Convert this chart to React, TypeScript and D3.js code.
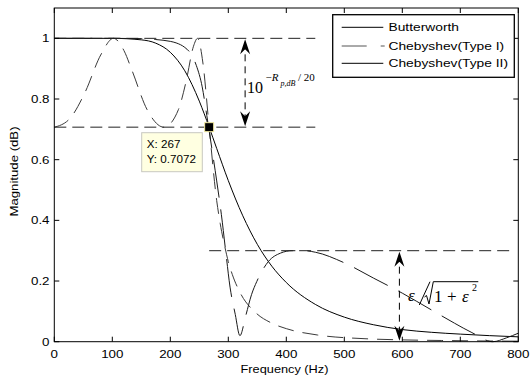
import * as d3 from "d3";

// frequency response
const butterFreq = [0, 50, 100, 150, 175, 200, 225, 250, 267, 280, 300, 325, 350, 375, 400, 450, 500, 550, 600, 650, 700, 750, 800];
const butterMag = [1, 1, 1, 0.995, 0.984, 0.954, 0.893, 0.793, 0.707, 0.637, 0.531, 0.415, 0.321, 0.249, 0.195, 0.123, 0.081, 0.056, 0.04, 0.031, 0.025, 0.02, 0.016];

const cheb1Freq = [0, 27, 53, 80, 102, 120, 134, 160, 189, 214, 227, 240, 247, 256, 267, 280, 286, 294, 300, 307, 320, 347, 374, 400, 454, 534, 600, 668, 734, 800];
const cheb1Mag = [0.707, 0.736, 0.822, 0.945, 1, 0.96, 0.894, 0.765, 0.707, 0.765, 0.856, 0.974, 1, 0.922, 0.707, 0.465, 0.39, 0.313, 0.264, 0.221, 0.163, 0.096, 0.062, 0.043, 0.022, 0.01, 0.006, 0.004, 0.0025, 0.0017];

const cheb2Freq = [0, 100, 150, 175, 200, 210, 225, 234, 245, 255, 263, 271, 280, 288, 296, 303, 312, 320, 330, 340, 349, 369, 390, 410, 430, 450, 500, 550, 600, 650, 690, 720, 756, 780, 800];
const cheb2Mag = [1, 1, 0.999, 0.996, 0.99, 0.985, 0.97, 0.953, 0.91, 0.84, 0.745, 0.645, 0.53, 0.42, 0.29, 0.18, 0.09, 0.02, 0.085, 0.155, 0.198, 0.264, 0.292, 0.3, 0.3, 0.295, 0.26, 0.21, 0.16, 0.105, 0.061, 0.03, 0, 0.013, 0.028];

const xTicks = [0, 100, 200, 300, 400, 500, 600, 700, 800];
const yTicks = [0, 0.2, 0.4, 0.6, 0.8, 1];
const yTickLabels = ["0", "0.2", "0.4", "0.6", "0.8", "1"];

const legendNames = ["Butterworth", "Chebyshev(Type I)", "Chebyshev(Type II)"];

const tipX = 267;
const tipY = 0.7072;
const rippleLevel = 0.3;

const W = 530;
const H = 381;
const FONT = "Arial, 'Liberation Sans', Helvetica, sans-serif";
const SERIF = "'Times New Roman', 'Liberation Serif', serif";

const x = d3.scaleLinear().domain([0, 800]).range([54.3, 518.3]);
const y = d3.scaleLinear().domain([0, 1.1]).range([341.7, 8]);

const line = d3
  .line<[number, number]>()
  .x((d) => x(d[0]))
  .y((d) => y(d[1]))
  .curve(d3.curveMonotoneX);

const zip = (f: number[], m: number[]) => f.map((v, i) => [v, m[i]] as [number, number]);

// stretched sans text, the reference font is wider than Arial
function Txt({ x: tx, y: ty, anchor = "start", size = 11.5, sx = 1.16, rotate = 0, children }: any) {
  return (
    <text
      transform={`translate(${tx},${ty}) rotate(${rotate}) scale(${sx},1)`}
      textAnchor={anchor}
      fontFamily={FONT}
      fontSize={size}
      fill="#000"
    >
      {children}
    </text>
  );
}

function Arrow({ px, py, dir }: { px: number; py: number; dir: 1 | -1 }) {
  // dir 1 = points up, tip at (px,py)
  const s = dir;
  const d = `M${px},${py} L${px + 5},${py + 15 * s} L${px},${py + 10 * s} L${px - 5},${py + 15 * s} Z`;
  return <path d={d} fill="#000" />;
}

export default function App() {
  const x0 = x(0);
  const x1 = x(800);
  const yTop = y(1.1);
  const yBot = y(0);

  const arrow1X = x(329);
  const arrow2X = x(595);

  const legendX0 = 332.7;
  const legendY0 = 14.7;
  const legendRows = [27.3, 46, 63.3];

  return (
    <svg
      width={W}
      height={H}
      style={{ position: "absolute", left: 0, top: 0, background: "#fff" }}
    >
      <rect x={0} y={0} width={W} height={H} fill="#fff" />

      {/* curves */}
      <path d={line(zip(butterFreq, butterMag)) || ""} fill="none" stroke="#000" strokeWidth={1} />
      <path
        d={line(zip(cheb1Freq, cheb1Mag)) || ""}
        fill="none"
        stroke="#3a3a3a"
        strokeWidth={1}
        strokeDasharray="16,9"
      />
      <path
        d={line(zip(cheb2Freq, cheb2Mag)) || ""}
        fill="none"
        stroke="#1a1a1a"
        strokeWidth={1}
        strokeDasharray="38,12"
      />

      {/* reference lines */}
      <g stroke="#222" strokeWidth={1} strokeDasharray="12,6" fill="none">
        <line x1={x(0)} x2={x(450)} y1={y(1)} y2={y(1)} />
        <line x1={x(0)} x2={x(450)} y1={y(tipY)} y2={y(tipY)} />
        <line x1={x(267)} x2={x(785)} y1={y(rippleLevel)} y2={y(rippleLevel)} />
      </g>
      <g stroke="#000" strokeWidth={1} strokeDasharray="7,5" fill="none">
        <line x1={arrow1X} x2={arrow1X} y1={y(1) + 4} y2={y(tipY) - 4} />
        <line x1={arrow2X} x2={arrow2X} y1={y(rippleLevel) + 4} y2={y(0) - 4} />
      </g>
      <Arrow px={arrow1X} py={y(1) + 1} dir={1} />
      <Arrow px={arrow1X} py={y(tipY) - 1} dir={-1} />
      <Arrow px={arrow2X} py={y(rippleLevel) + 1} dir={1} />
      <Arrow px={arrow2X} py={y(0) - 1} dir={-1} />

      {/* 10^{-R_p,dB/20} */}
      <text x={247} y={93} fontFamily={SERIF} fontSize={16} fill="#000">
        10
      </text>
      <text x={265.5} y={81} fontFamily={SERIF} fontSize={11} fill="#000">
        −<tspan fontStyle="italic">R</tspan>
      </text>
      <text x={280.5} y={85.5} fontFamily={SERIF} fontSize={8} fontStyle="italic" fill="#000">
        p,dB
      </text>
      <text x={298} y={81} fontFamily={SERIF} fontSize={11} fill="#000">
        / 20
      </text>

      {/* epsilon / sqrt(1+eps^2) */}
      <text x={408} y={301} fontFamily={SERIF} fontSize={17} fontStyle="italic" fill="#000">
        ε
      </text>
      <line x1={430} y1={281.7} x2={419.3} y2={305} stroke="#000" strokeWidth={1} />
      <path
        d="M424.5,297 L426.5,295.5 L429,304 L433.3,281.7 L478.3,281.7"
        fill="none"
        stroke="#000"
        strokeWidth={1}
      />
      <text x={434} y={301.5} fontFamily={SERIF} fontSize={17} fill="#000">
        1
      </text>
      <text x={447} y={301.5} fontFamily={SERIF} fontSize={17} fill="#000">
        +
      </text>
      <text x={462} y={301.5} fontFamily={SERIF} fontSize={17} fontStyle="italic" fill="#000">
        ε
      </text>
      <text x={472} y={291} fontFamily={SERIF} fontSize={10} fill="#000">
        2
      </text>

      {/* axes box and ticks */}
      <rect x={x0} y={yTop} width={x1 - x0} height={yBot - yTop} fill="none" stroke="#000" strokeWidth={1} />
      <g stroke="#000" strokeWidth={1}>
        {xTicks.map((t) => (
          <g key={"xt" + t}>
            <line x1={x(t)} x2={x(t)} y1={yBot} y2={yBot - 5} />
            <line x1={x(t)} x2={x(t)} y1={yTop} y2={yTop + 5} />
          </g>
        ))}
        {yTicks.map((t) => (
          <g key={"yt" + t}>
            <line x1={x0} x2={x0 + 5} y1={y(t)} y2={y(t)} />
            <line x1={x1} x2={x1 - 5} y1={y(t)} y2={y(t)} />
          </g>
        ))}
      </g>
      {xTicks.map((t) => (
        <Txt key={"xl" + t} x={x(t)} y={357.5} anchor="middle">
          {String(t)}
        </Txt>
      ))}
      {yTicks.map((t, i) => (
        <Txt key={"yl" + t} x={49.5} y={y(t) + 4} anchor="end">
          {yTickLabels[i]}
        </Txt>
      ))}
      <Txt x={284.5} y={372.5} anchor="middle" size={11}>
        Frequency (Hz)
      </Txt>
      <Txt x={18} y={171.5} anchor="middle" rotate={-90} size={11} sx={1.2}>
        Magnitude (dB)
      </Txt>

      {/* data tip */}
      <rect x={141.7} y={132.7} width={60.6} height={39} fill="#ffffe1" stroke="#c8c8c0" strokeWidth={1} />
      <Txt x={146.7} y={148.3} size={11} sx={1.06}>
        X: {tipX}
      </Txt>
      <Txt x={146.7} y={162.7} size={11} sx={1.06}>
        Y: {tipY}
      </Txt>
      <rect
        x={x(tipX) - 4.5}
        y={y(tipY) - 4.5}
        width={9}
        height={9}
        fill="#000"
        stroke="#f2eaa0"
        strokeWidth={1}
      />

      {/* legend */}
      <rect
        x={legendX0}
        y={legendY0}
        width={514.3 - legendX0}
        height={77.3 - legendY0}
        fill="#fff"
        stroke="#000"
        strokeWidth={1.3}
      />
      <line x1={341.7} x2={383.3} y1={legendRows[0]} y2={legendRows[0]} stroke="#000" strokeWidth={1} />
      <line
        x1={341.7}
        x2={384.7}
        y1={legendRows[1]}
        y2={legendRows[1]}
        stroke="#555"
        strokeWidth={1}
        strokeDasharray="25,14"
      />
      <line x1={341.7} x2={383.3} y1={legendRows[2]} y2={legendRows[2]} stroke="#000" strokeWidth={1} />
      {legendNames.map((n, i) => (
        <Txt key={n} x={388.5} y={legendRows[i] + 4} size={11.5} sx={1.2}>
          {n}
        </Txt>
      ))}
    </svg>
  );
}
